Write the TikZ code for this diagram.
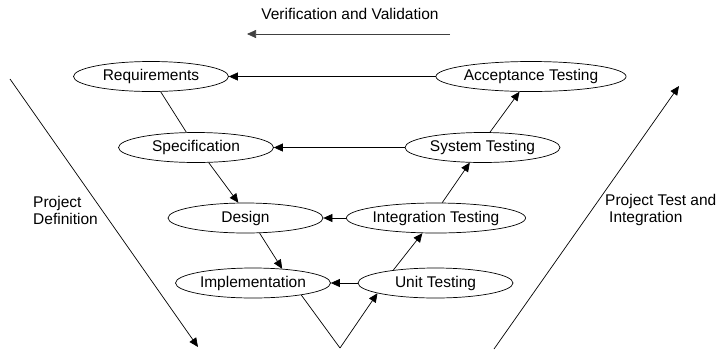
\documentclass[tikz,border=0pt]{standalone}
\usepackage{fontspec}
\setmainfont{Liberation Sans}
\usetikzlibrary{positioning, arrows.meta, shapes.geometric}

\begin{document}
\begin{tikzpicture}[
        x=1pt, y=-1pt,
        font=\fontsize{15.5}{17}\selectfont,
        stage/.style={ellipse, draw, line width=0.7pt, minimum width=155pt, minimum height=30pt, inner sep=0pt},
        arrow/.style={-{Triangle[length=9pt, width=8pt]}, line width=0.7pt},
        link/.style={line width=0.7pt},
        caption/.style={align=left, inner sep=0pt}
    ]
    \useasboundingbox (0,0) rectangle (717,349);

    % left arm
    \node[stage] (req) at (151,76.5) {Requirements};
    \node[stage] (spec) at (196,147.5) {Specification};
    \node[stage] (design) at (245.5,218) {Design};
    \node[stage] (impl) at (253,283) {Implementation};

    % right arm
    \node[stage] (accept) at (531,76.5) {Acceptance Testing};
    \node[stage] (system) at (482.5,147.5) {System Testing};
    \node[stage] (integ) at (436,218) {Integration Testing};
    \node[stage] (unit) at (435.5,283) {Unit Testing};

    \coordinate (bottom) at (340,348);
    \coordinate (vvstart) at (450,34);
    \coordinate (vvend) at (247,34);
    \coordinate (defstart) at (10,79);
    \coordinate (defend) at (198,347);
    \coordinate (teststart) at (494,349);
    \coordinate (testend) at (679,86);

    \node (vvtext) at (350,14) {Verification and Validation};
    \node[caption, anchor=west] (deftext) at (33,210) {Project\\Definition};
    \node[caption, anchor=west] (testtext) at (605,210) {Project Test and\\\hspace*{4pt}Integration};

    \draw[arrow, black!75] (vvstart) -- (vvend);
    \draw[arrow] (defstart) -- (defend);
    \draw[arrow] (teststart) -- (testend);

    \draw[arrow] (accept.west) -- (req.east);
    \draw[arrow] (system.west) -- (spec.east);
    \draw[arrow] (integ.west) -- (design.east);
    \draw[arrow] (unit.west) -- (impl.east);

    \draw[link] (req) -- (spec);
    \draw[arrow] (spec.-50) -- (design.115);
    \draw[arrow] (design.-47) -- (impl.26);
    \draw[link] (impl.-14) -- (bottom);
    \draw[arrow] (bottom) -- (unit.-170);
    \draw[arrow] (unit.163) -- (integ.-132);
    \draw[arrow] (integ.68) -- (system.-130);
    \draw[arrow] (system.64) -- (accept.-127);
\end{tikzpicture}
\end{document}
